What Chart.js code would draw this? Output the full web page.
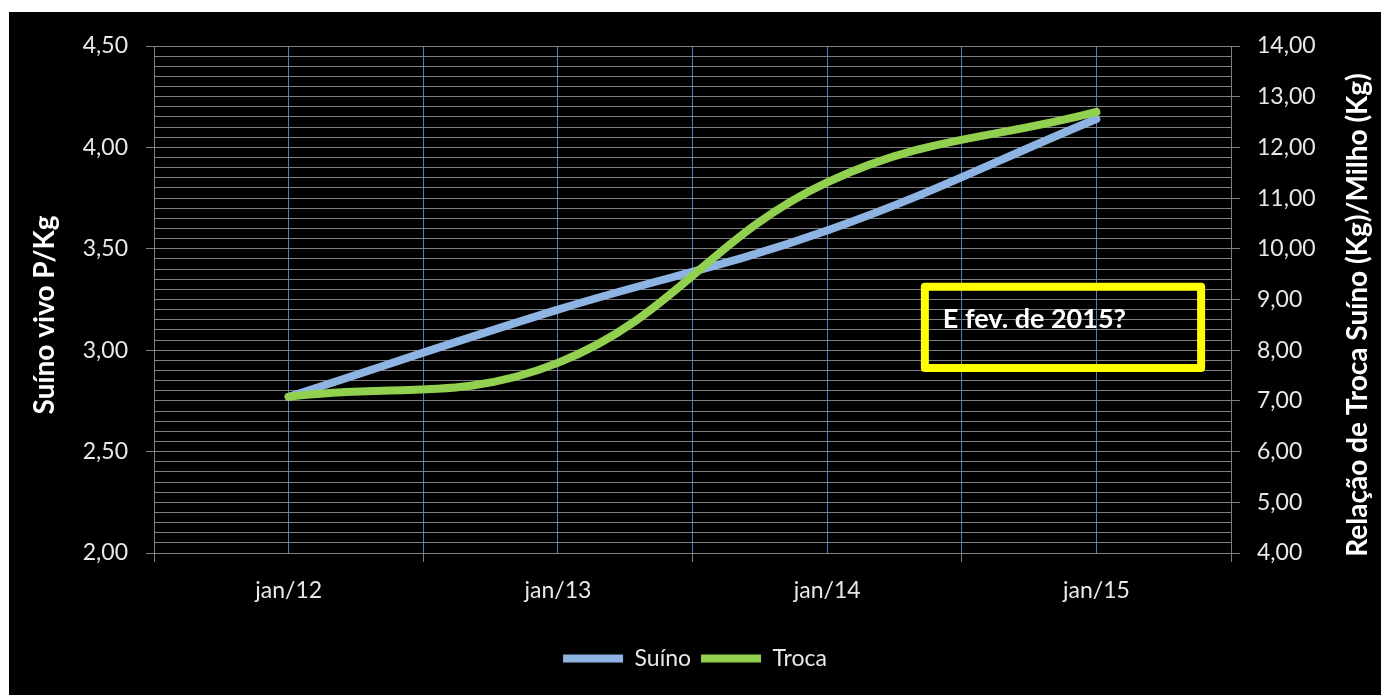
<!DOCTYPE html>
<html>
<head>
<meta charset="utf-8">
<title>Suíno vivo e Relação de Troca</title>
<script src="https://cdn.jsdelivr.net/npm/chart.js@4"></script>
<style>
  html, body { margin: 0; padding: 0; background: #ffffff; }
  #frame { position: absolute; left: 9px; top: 12px; width: 1372px; height: 683px; background: #000000; }
  canvas { display: block; }
</style>
</head>
<body>
<div id="frame"><canvas id="chart" width="1372" height="683"></canvas></div>
<script>
// Categories (one per January) and the two series
const categories = ['jan/12', 'jan/13', 'jan/14', 'jan/15'];
const suino = [2.77, 3.20, 3.59, 4.14];     // Suíno vivo, R$ por kg (eixo esquerdo)
const troca = [7.08, 7.75, 11.31, 12.70];   // Relação de troca suíno/milho (eixo direito)

// Axis ranges
const leftRange = [2.00, 4.50];
const rightRange = [4, 14];

// Texts
const leftTitle = 'Suíno vivo P/Kg';
const rightTitle = 'Relação de Troca Suíno (Kg)/Milho (Kg)';
const calloutText = 'E fev. de 2015?';
// Callout box corners in axis units (x index, right-axis value)
const calloutBox = { x0: 2.363, x1: 3.389, y0: 9.25, y1: 7.65 };

const FONT = 'Lato, "Open Sans", sans-serif';
const GRAY = '#808080';
const BLUE_GRID = '#4a7dba';
const LABEL = '#e8e8e8';

const fmt = v => v.toFixed(2).replace('.', ',');
const isMajorLeft = v => Math.abs(v * 2 - Math.round(v * 2)) < 1e-6;

const asPoints = arr => arr.map((v, i) => ({ x: i, y: v }));

const overlay = {
  id: 'overlay',
  afterDraw(chart) {
    const ctx = chart.ctx;
    const x = chart.scales.x, y2 = chart.scales.y2;
    ctx.save();
    // Axis titles, both reading bottom-to-top
    ctx.fillStyle = '#ffffff';
    ctx.font = 'bold 28px ' + FONT;
    ctx.textAlign = 'center';
    ctx.textBaseline = 'middle';
    [[36, leftTitle], [1349, rightTitle]].forEach(([cx, t]) => {
      ctx.save();
      ctx.translate(cx, 303);
      ctx.rotate(-Math.PI / 2);
      ctx.fillText(t, 0, 0);
      ctx.restore();
    });
    // Callout box
    const bx0 = x.getPixelForValue(calloutBox.x0), bx1 = x.getPixelForValue(calloutBox.x1);
    const by0 = y2.getPixelForValue(calloutBox.y0), by1 = y2.getPixelForValue(calloutBox.y1);
    ctx.strokeStyle = '#ffff00';
    ctx.lineWidth = 8;
    ctx.lineJoin = 'round';
    ctx.strokeRect(bx0, by0, bx1 - bx0, by1 - by0);
    ctx.fillStyle = '#ffffff';
    ctx.font = 'bold 27px ' + FONT;
    ctx.textAlign = 'left';
    ctx.fillText(calloutText, bx0 + 18, by0 + 32);
    ctx.restore();
  }
};

new Chart(document.getElementById('chart'), {
  type: 'line',
  data: {
    datasets: [
      {
        label: 'Suíno', data: asPoints(suino), yAxisID: 'y', order: 2,
        borderColor: '#8db4e2', backgroundColor: '#8db4e2',
        borderWidth: 8, borderCapStyle: 'round', borderJoinStyle: 'round',
        pointRadius: 0, pointStyle: 'line', tension: 0.4
      },
      {
        label: 'Troca', data: asPoints(troca), yAxisID: 'y2', order: 1,
        borderColor: '#92d050', backgroundColor: '#92d050',
        borderWidth: 8, borderCapStyle: 'round', borderJoinStyle: 'round',
        pointRadius: 0, pointStyle: 'line', tension: 0.4
      }
    ]
  },
  options: {
    responsive: false,
    devicePixelRatio: 1,
    animation: false,
    layout: { padding: { top: 34, bottom: 15, left: 0, right: 0 } },
    plugins: {
      tooltip: { enabled: false },
      legend: {
        position: 'bottom',
        labels: {
          usePointStyle: true,
          pointStyleWidth: 60,
          color: LABEL,
          font: { family: FONT, size: 23 },
          padding: 10,
          sort: (a, b) => a.datasetIndex - b.datasetIndex
        }
      }
    },
    scales: {
      x: {
        type: 'linear',
        position: 'bottom',
        min: -0.5,
        max: categories.length - 0.5,
        afterFit: s => { s.height = 84; },
        ticks: {
          count: categories.length * 2 + 1,
          autoSkip: false,
          maxRotation: 0,
          padding: 15,
          color: LABEL,
          font: { family: FONT, size: 23 },
          callback: v => (Number.isInteger(v) ? categories[v] : '')
        },
        grid: {
          color: c => {
            const v = c.tick ? c.tick.value : 0;
            return (v <= -0.5 || v >= categories.length - 0.5) ? GRAY : BLUE_GRID;
          },
          tickColor: c => (c.tick && !Number.isInteger(c.tick.value) ? GRAY : 'transparent'),
          tickLength: 9,
          lineWidth: 1
        },
        border: { color: GRAY, width: 1 }
      },
      y: {
        position: 'left',
        min: leftRange[0],
        max: leftRange[1],
        afterFit: s => { s.width = 145; },
        ticks: {
          count: 51,
          autoSkip: false,
          padding: 18,
          color: LABEL,
          font: { family: FONT, size: 23 },
          callback: v => (isMajorLeft(v) ? fmt(v) : '')
        },
        grid: {
          color: GRAY,
          tickColor: c => (c.tick && isMajorLeft(c.tick.value) ? GRAY : 'transparent'),
          tickLength: 8,
          lineWidth: 1
        },
        border: { color: GRAY, width: 1 }
      },
      y2: {
        position: 'right',
        min: rightRange[0],
        max: rightRange[1],
        afterFit: s => { s.width = 150; },
        ticks: {
          stepSize: 1,
          autoSkip: false,
          padding: 17,
          color: LABEL,
          font: { family: FONT, size: 23 },
          callback: v => fmt(v)
        },
        grid: {
          drawOnChartArea: false,
          color: GRAY,
          tickLength: 9
        },
        border: { color: GRAY, width: 1 }
      }
    }
  },
  plugins: [overlay]
});
</script>
</body>
</html>
